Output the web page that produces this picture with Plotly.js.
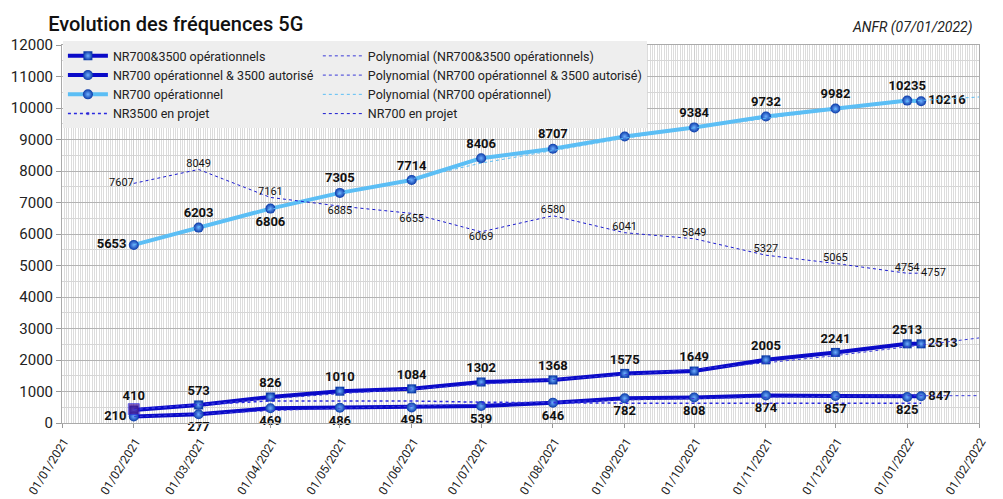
<!DOCTYPE html>
<html>
<head>
<meta charset="utf-8">
<script src="https://cdn.plot.ly/plotly-3.0.1.min.js"></script>
<style>
body { margin: 0; background: #fff; }
#chart { width: 1003px; height: 499px; }
</style>
</head>
<body>
<div id="chart"></div>
<script>
// Dates of the readings (1st of each month, plus the last reading on 07/01/2022).
var dates = ['2021-02-01', '2021-03-01', '2021-04-01', '2021-05-01', '2021-06-01', '2021-07-01',
  '2021-08-01', '2021-09-01', '2021-10-01', '2021-11-01', '2021-12-01', '2022-01-01', '2022-01-07'];
// Trend lines run on to the end of the axis.
var trend_dates = dates.concat(['2022-02-01']);

var nr700_3500_op = [410, 573, 826, 1010, 1084, 1302, 1368, 1575, 1649, 2005, 2241, 2513, 2513];
var nr700_op_3500_aut = [210, 277, 469, 486, 495, 539, 646, 782, 808, 874, 857, 825, 847];
var nr700_op = [5653, 6203, 6806, 7305, 7714, 8406, 8707, 9094, 9384, 9732, 9982, 10235, 10216];
var nr3500_projet = [440, 580, 700, 710, 700, 660, 640, 630, 630, 630, 630, 630, 630];
var nr700_projet = [7607, 8049, 7161, 6885, 6655, 6069, 6580, 6041, 5849, 5327, 5065, 4754, 4757];

// Polynomial trend lines.
var poly_nr700_3500_op = [420, 590, 770, 930, 1080, 1220, 1370, 1530, 1710, 1910, 2140, 2420, 2470, 2700];
var poly_nr700_op_3500_aut = [200, 300, 390, 470, 540, 610, 670, 730, 780, 820, 850, 865, 866, 868];
var poly_nr700_op = [5660, 6230, 6780, 7280, 7750, 8250, 8650, 9040, 9370, 9680, 9960, 10200, 10240, 10350];

var font = 'Roboto, "Liberation Sans", sans-serif';
var dark_blue = '#0a0ac8';
var sphere = {color: '#0b3aa8', gradient: {type: 'radial', color: '#6fb0ff'}};

// Label positions for each point.
var pos_op = ['top center', 'top center', 'top center', 'top center', 'top center', 'top center',
  'top center', 'top center', 'top center', 'top center', 'top center', 'top center', 'middle right'];
var pos_aut = ['middle left', 'bottom center', 'bottom center', 'bottom center', 'bottom center', 'bottom center',
  'bottom center', 'bottom center', 'bottom center', 'bottom center', 'bottom center', 'bottom center', 'middle right'];
var pos_nr700 = ['middle left', 'top center', 'bottom center', 'top center', 'top center', 'top center',
  'top center', 'top center', 'top center', 'top center', 'top center', 'top center', 'middle right'];
var pos_projet = ['middle left', 'top center', 'top center', 'bottom center', 'bottom center', 'bottom center',
  'top center', 'top center', 'top center', 'top center', 'top center', 'top center', 'middle right'];

var bold_label = {family: font, size: 13, weight: 'bold', color: '#111'};

// Left legend column goes in "legend", right column in "legend2".
var traces = [{
  x: dates, y: nr700_3500_op,
  name: 'NR700&3500 opérationnels', legend: 'legend',
  mode: 'lines+markers+text', cliponaxis: false,
  line: {color: dark_blue, width: 4},
  marker: {symbol: 'square', size: 9, color: sphere.color, gradient: sphere.gradient},
  text: nr700_3500_op.map(String), textposition: pos_op, textfont: bold_label
}, {
  x: dates, y: nr700_op_3500_aut,
  name: 'NR700 opérationnel & 3500 autorisé', legend: 'legend',
  mode: 'lines+markers+text', cliponaxis: false,
  line: {color: dark_blue, width: 4},
  marker: {symbol: 'circle', size: 10, color: sphere.color, gradient: sphere.gradient},
  text: nr700_op_3500_aut.map(String), textposition: pos_aut, textfont: bold_label
}, {
  x: dates, y: nr700_op,
  name: 'NR700 opérationnel', legend: 'legend',
  mode: 'lines+markers+text', cliponaxis: false,
  line: {color: '#5bbef5', width: 4},
  marker: {symbol: 'circle', size: 10, color: sphere.color, gradient: sphere.gradient},
  text: nr700_op.map(String), textposition: pos_nr700, textfont: bold_label
}, {
  x: dates, y: nr3500_projet,
  name: 'NR3500 en projet', legend: 'legend',
  mode: 'lines+markers',
  line: {color: '#2a2ae0', width: 1.5, dash: 'dot'},
  marker: {symbol: 'square', color: '#4b1496', size: [11, 0, 0, 0, 0, 0, 0, 0, 0, 0, 0, 0, 0]}
}, {
  x: trend_dates, y: poly_nr700_3500_op,
  name: 'Polynomial (NR700&3500 opérationnels)', legend: 'legend2',
  mode: 'lines',
  line: {color: '#3a3ad8', width: 1, dash: 'dot'}
}, {
  x: trend_dates, y: poly_nr700_op_3500_aut,
  name: 'Polynomial (NR700 opérationnel & 3500 autorisé)', legend: 'legend2',
  mode: 'lines',
  line: {color: '#3a3ad8', width: 1, dash: 'dot'}
}, {
  x: trend_dates, y: poly_nr700_op,
  name: 'Polynomial (NR700 opérationnel)', legend: 'legend2',
  mode: 'lines',
  line: {color: '#5bbef5', width: 1, dash: 'dot'}
}, {
  x: dates, y: nr700_projet,
  name: 'NR700 en projet', legend: 'legend2',
  mode: 'lines+text', cliponaxis: false,
  line: {color: '#1a1ad0', width: 1, dash: 'dot'},
  text: nr700_projet.map(String), textposition: pos_projet,
  textfont: {family: font, size: 11, color: '#111'}
}];

var legend_style = {
  orientation: 'v', y: 1.01, xanchor: 'left', yanchor: 'top',
  bgcolor: '#eeeeee', borderwidth: 0,
  font: {family: font, size: 12.5, color: '#222'},
  itemwidth: 40, tracegroupgap: 0, traceorder: 'normal'
};

var layout = {
  width: 1003, height: 499,
  margin: {l: 62, r: 24, t: 45, b: 76},
  paper_bgcolor: '#fff', plot_bgcolor: '#fff',
  font: {family: font, size: 13, color: '#222'},
  title: {
    text: 'Evolution des fréquences 5G',
    font: {family: font, size: 20, weight: 500, color: '#111'},
    x: 0.048, xanchor: 'left', y: 0.965, yanchor: 'top'
  },
  showlegend: true,
  legend: Object.assign({}, legend_style, {x: 0.001}),
  legend2: Object.assign({}, legend_style, {x: 0.279}),
  xaxis: {
    type: 'date',
    range: ['2021-01-01', '2022-02-01'],
    tick0: '2021-01-01', dtick: 'M1', tickformat: '%d/%m/%Y',
    tickangle: -58, ticks: 'outside', ticklen: 4, tickcolor: '#999',
    ticklabelshift: 2, ticklabelstandoff: 2,
    tickfont: {family: font, size: 12, color: '#222'},
    showgrid: true, gridcolor: '#cfcfcf',
    minor: {dtick: 86400000, showgrid: true, gridcolor: '#dcdcdc', gridwidth: 1},
    showline: true, linecolor: '#aaaaaa', mirror: true, zeroline: false
  },
  yaxis: {
    range: [0, 12000], dtick: 1000, tickformat: 'd',
    ticks: 'outside', ticklen: 5, tickcolor: '#999',
    tickfont: {family: font, size: 15, color: '#222'},
    showgrid: true, gridcolor: '#b3b3b3',
    minor: {dtick: 500, showgrid: true, gridcolor: '#d6d6d6'},
    showline: true, linecolor: '#aaaaaa', mirror: true, zeroline: false
  },
  annotations: [{
    text: 'ANFR (07/01/2022)', xref: 'paper', yref: 'paper',
    x: 0.995, y: 1.045, xanchor: 'right', yanchor: 'middle', showarrow: false,
    font: {family: font, size: 14, style: 'italic', color: '#222'}
  }]
};

Plotly.newPlot('chart', traces, layout, {displayModeBar: false, staticPlot: true});
</script>
</body>
</html>
